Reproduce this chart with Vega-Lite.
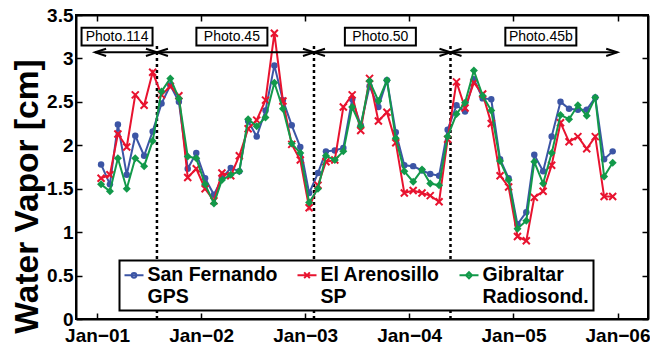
{
  "$schema": "https://vega.github.io/schema/vega-lite/v6.json",
  "width": 572,
  "height": 304,
  "autosize": {"type": "none"},
  "padding": {"left": 76, "top": 15, "right": 2, "bottom": 28},
  "background": "white",
  "config": {
    "view": {"stroke": "black", "strokeWidth": 2},
    "axis": {"grid": false, "domainColor": "black", "domainWidth": 2, "tickColor": "black", "tickWidth": 1.5, "tickSize": -6, "labelPadding": 10, "labelFont": "Liberation Sans", "labelFontWeight": "bold", "labelFontSize": 19, "labelColor": "black"},
    "legend": {"strokeWidth": 2}
  },
  "datasets": {
    "wv": [
      {"m":"2001-01-15T00:00","sf":1.78,"ea":1.62,"gr":1.55},
      {"m":"2001-02-15T00:00","sf":1.55,"ea":1.66,"gr":1.47},
      {"m":"2001-03-15T00:00","sf":2.24,"ea":2.13,"gr":1.85},
      {"m":"2001-04-15T00:00","sf":1.66,"ea":1.98,"gr":1.50},
      {"m":"2001-05-15T00:00","sf":2.11,"ea":2.58,"gr":1.85},
      {"m":"2001-06-15T00:00","sf":1.88,"ea":2.46,"gr":1.76},
      {"m":"2001-07-15T00:00","sf":2.16,"ea":2.84,"gr":2.05},
      {"m":"2001-08-15T00:00","sf":2.48,"ea":2.58,"gr":2.62},
      {"m":"2001-09-15T00:00","sf":2.69,"ea":2.68,"gr":2.77},
      {"m":"2001-10-15T00:00","sf":2.50,"ea":2.57,"gr":2.54},
      {"m":"2001-11-15T00:00","sf":1.73,"ea":1.63,"gr":1.87},
      {"m":"2001-12-15T00:00","sf":1.91,"ea":1.73,"gr":1.85},
      {"m":"2002-01-15T00:00","sf":1.62,"ea":1.50,"gr":1.55},
      {"m":"2002-02-15T00:00","sf":1.43,"ea":1.36,"gr":1.33},
      {"m":"2002-03-15T00:00","sf":1.62,"ea":1.68,"gr":1.60},
      {"m":"2002-04-15T00:00","sf":1.74,"ea":1.65,"gr":1.66},
      {"m":"2002-05-15T00:00","sf":1.70,"ea":1.88,"gr":1.70},
      {"m":"2002-06-15T00:00","sf":2.28,"ea":2.19,"gr":2.30},
      {"m":"2002-07-15T00:00","sf":2.10,"ea":2.29,"gr":2.22},
      {"m":"2002-08-15T00:00","sf":2.40,"ea":2.52,"gr":2.32},
      {"m":"2002-09-15T00:00","sf":2.92,"ea":3.29,"gr":2.72},
      {"m":"2002-10-15T00:00","sf":2.52,"ea":2.51,"gr":2.42},
      {"m":"2002-11-15T00:00","sf":2.23,"ea":2.01,"gr":2.02},
      {"m":"2002-12-15T00:00","sf":1.98,"ea":1.83,"gr":1.91},
      {"m":"2003-01-15T00:00","sf":1.45,"ea":1.28,"gr":1.34},
      {"m":"2003-02-15T00:00","sf":1.68,"ea":1.54,"gr":1.50},
      {"m":"2003-03-15T00:00","sf":1.93,"ea":1.81,"gr":1.88},
      {"m":"2003-04-15T00:00","sf":1.94,"ea":1.83,"gr":1.83},
      {"m":"2003-05-15T00:00","sf":1.97,"ea":2.44,"gr":1.93},
      {"m":"2003-06-15T00:00","sf":2.53,"ea":2.58,"gr":2.44},
      {"m":"2003-07-15T00:00","sf":2.23,"ea":2.17,"gr":2.22},
      {"m":"2003-08-15T00:00","sf":2.68,"ea":2.77,"gr":2.74},
      {"m":"2003-09-15T00:00","sf":2.44,"ea":2.28,"gr":2.51},
      {"m":"2003-10-15T00:00","sf":2.75,"ea":2.38,"gr":2.75},
      {"m":"2003-11-15T00:00","sf":2.15,"ea":2.03,"gr":2.08},
      {"m":"2003-12-15T00:00","sf":1.77,"ea":1.45,"gr":1.70},
      {"m":"2004-01-15T00:00","sf":1.76,"ea":1.48,"gr":1.58},
      {"m":"2004-02-15T00:00","sf":1.71,"ea":1.45,"gr":1.72},
      {"m":"2004-03-15T00:00","sf":1.67,"ea":1.42,"gr":1.56},
      {"m":"2004-04-15T00:00","sf":1.65,"ea":1.35,"gr":1.54},
      {"m":"2004-05-15T00:00","sf":2.18,"ea":2.07,"gr":2.10},
      {"m":"2004-06-15T00:00","sf":2.46,"ea":2.73,"gr":2.36},
      {"m":"2004-07-15T00:00","sf":2.39,"ea":2.43,"gr":2.49},
      {"m":"2004-08-15T00:00","sf":2.76,"ea":2.72,"gr":2.86},
      {"m":"2004-09-15T00:00","sf":2.54,"ea":2.59,"gr":2.57},
      {"m":"2004-10-15T00:00","sf":2.53,"ea":2.25,"gr":2.40},
      {"m":"2004-11-15T00:00","sf":1.84,"ea":1.65,"gr":1.82},
      {"m":"2004-12-15T00:00","sf":1.62,"ea":1.52,"gr":1.60},
      {"m":"2005-01-15T00:00","sf":1.09,"ea":0.95,"gr":1.04},
      {"m":"2005-02-15T00:00","sf":1.23,"ea":0.90,"gr":1.13},
      {"m":"2005-03-15T00:00","sf":1.89,"ea":1.40,"gr":1.81},
      {"m":"2005-04-15T00:00","sf":1.70,"ea":1.47,"gr":1.56},
      {"m":"2005-05-15T00:00","sf":2.10,"ea":1.77,"gr":1.91},
      {"m":"2005-06-15T00:00","sf":2.50,"ea":2.26,"gr":2.35},
      {"m":"2005-07-15T00:00","sf":2.42,"ea":2.04,"gr":2.30},
      {"m":"2005-08-15T00:00","sf":2.41,"ea":2.10,"gr":2.46},
      {"m":"2005-09-15T00:00","sf":2.41,"ea":1.96,"gr":2.34},
      {"m":"2005-10-15T00:00","sf":2.55,"ea":2.10,"gr":2.55},
      {"m":"2005-11-15T00:00","sf":1.84,"ea":1.41,"gr":1.64},
      {"m":"2005-12-15T00:00","sf":1.93,"ea":1.41,"gr":1.80}
    ],
    "photo": [
      {"name":"Photo.114","start":"2000-12-25T00:00","end":"2001-07-30T00:00","mid":"2001-03-12T00:00"},
      {"name":"Photo.45","start":"2001-07-30T00:00","end":"2003-02-01T00:00","mid":"2002-04-19T00:00"},
      {"name":"Photo.50","start":"2003-02-01T00:00","end":"2004-05-25T00:00","mid":"2003-09-22T00:00"},
      {"name":"Photo.45b","start":"2004-05-25T00:00","end":"2005-12-31T00:00","mid":"2005-04-07T00:00"}
    ],
    "series": [
      {"series":"San Fernando GPS"},
      {"series":"El Arenosillo SP"},
      {"series":"Gibraltar Radiosond."}
    ]
  },
  "resolve": {"axis": {"x": "independent", "y": "independent"}},
  "layer": [
    {
      "data": {"name": "photo"},
      "transform": [{"filter": "datum.name != 'Photo.45b'"}],
      "mark": {"type": "rule", "color": "black", "strokeWidth": 2.5, "strokeDash": [3, 3]},
      "encoding": {
        "x": {"field": "end", "type": "temporal", "scale": {"domain": [{"year":2000,"month":10,"date":19},{"year":2006,"month":4,"date":18}], "nice": false}, "axis": null},
        "y": {"datum": 0, "type": "quantitative", "scale": {"domain": [0, 3.5], "nice": false, "zero": false}, "axis": null},
        "y2": {"datum": 3.17}
      }
    },
    {
      "data": {"name": "wv"},
      "mark": {"type": "line", "color": "#3c55a5", "strokeWidth": 2},
      "encoding": {
        "x": {"field": "m", "type": "temporal", "scale": {"domain": [{"year":2000,"month":10,"date":19},{"year":2006,"month":4,"date":18}], "nice": false},
          "axis": {"orient": "bottom", "title": null, "labelPadding": 13, "values": [{"year":2001,"month":1,"date":1},{"year":2002,"month":1,"date":1},{"year":2003,"month":1,"date":1},{"year":2004,"month":1,"date":1},{"year":2005,"month":1,"date":1},{"year":2006,"month":1,"date":1}],
            "labelExpr": "timeFormat(datum.value, '%b') + '\u2212' + timeFormat(datum.value, '%y')", "labelFlush": false, "labelOverlap": false}},
        "y": {"field": "sf", "type": "quantitative", "scale": {"domain": [0, 3.5], "nice": false, "zero": false},
          "axis": {"orient": "left", "labelPadding": 9, "values": [0, 0.5, 1, 1.5, 2, 2.5, 3, 3.5], "format": "~g",
            "title": "Water Vapor [cm]", "titleFont": "Liberation Sans", "titleFontWeight": "bold", "titleFontSize": 33.5, "titleColor": "black",
            "titleX": -39, "titleY": 181, "titleAlign": "center", "titleBaseline": "alphabetic", "titleAngle": -90}}
      }
    },
    {
      "data": {"name": "wv"},
      "mark": {"type": "point", "shape": "circle", "filled": true, "color": "#3c55a5", "size": 42, "opacity": 1},
      "encoding": {
        "x": {"field": "m", "type": "temporal", "scale": {"domain": [{"year":2000,"month":10,"date":19},{"year":2006,"month":4,"date":18}], "nice": false},
          "axis": {"orient": "top", "title": null, "labels": false, "values": [{"year":2001,"month":1,"date":1},{"year":2002,"month":1,"date":1},{"year":2003,"month":1,"date":1},{"year":2004,"month":1,"date":1},{"year":2005,"month":1,"date":1},{"year":2006,"month":1,"date":1}]}},
        "y": {"field": "sf", "type": "quantitative", "scale": {"domain": [0, 3.5], "nice": false, "zero": false},
          "axis": {"orient": "right", "title": null, "labels": false, "values": [0, 0.5, 1, 1.5, 2, 2.5, 3, 3.5]}}
      }
    },
    {
      "data": {"name": "wv"},
      "mark": {"type": "line", "color": "#e8132f", "strokeWidth": 2},
      "encoding": {
        "x": {"field": "m", "type": "temporal", "scale": {"domain": [{"year":2000,"month":10,"date":19},{"year":2006,"month":4,"date":18}], "nice": false}, "axis": null},
        "y": {"field": "ea", "type": "quantitative", "scale": {"domain": [0, 3.5], "nice": false, "zero": false}, "axis": null}
      }
    },
    {
      "data": {"name": "wv"},
      "mark": {"type": "point", "shape": "M-1,-1L1,1M-1,1L1,-1", "filled": false, "stroke": "#e8132f", "strokeWidth": 2, "size": 49, "opacity": 1},
      "encoding": {
        "x": {"field": "m", "type": "temporal", "scale": {"domain": [{"year":2000,"month":10,"date":19},{"year":2006,"month":4,"date":18}], "nice": false}, "axis": null},
        "y": {"field": "ea", "type": "quantitative", "scale": {"domain": [0, 3.5], "nice": false, "zero": false}, "axis": null}
      }
    },
    {
      "data": {"name": "wv"},
      "mark": {"type": "line", "color": "#12994a", "strokeWidth": 2},
      "encoding": {
        "x": {"field": "m", "type": "temporal", "scale": {"domain": [{"year":2000,"month":10,"date":19},{"year":2006,"month":4,"date":18}], "nice": false}, "axis": null},
        "y": {"field": "gr", "type": "quantitative", "scale": {"domain": [0, 3.5], "nice": false, "zero": false}, "axis": null}
      }
    },
    {
      "data": {"name": "wv"},
      "mark": {"type": "point", "shape": "diamond", "filled": true, "color": "#12994a", "size": 64, "opacity": 1},
      "encoding": {
        "x": {"field": "m", "type": "temporal", "scale": {"domain": [{"year":2000,"month":10,"date":19},{"year":2006,"month":4,"date":18}], "nice": false}, "axis": null},
        "y": {"field": "gr", "type": "quantitative", "scale": {"domain": [0, 3.5], "nice": false, "zero": false}, "axis": null}
      }
    },
    {
      "data": {"name": "photo"},
      "mark": {"type": "rule", "color": "black", "strokeWidth": 2},
      "encoding": {
        "x": {"field": "start", "type": "temporal", "scale": {"domain": [{"year":2000,"month":10,"date":19},{"year":2006,"month":4,"date":18}], "nice": false}, "axis": null},
        "x2": {"field": "end"},
        "y": {"datum": 3.07, "type": "quantitative", "scale": {"domain": [0, 3.5], "nice": false, "zero": false}, "axis": null}
      }
    },
    {
      "data": {"name": "photo"},
      "mark": {"type": "point", "shape": "M1,-0.33L0,0L1,0.33", "filled": false, "stroke": "black", "strokeWidth": 2, "size": 484, "opacity": 1},
      "encoding": {
        "x": {"field": "start", "type": "temporal", "scale": {"domain": [{"year":2000,"month":10,"date":19},{"year":2006,"month":4,"date":18}], "nice": false}, "axis": null},
        "y": {"datum": 3.07, "type": "quantitative", "scale": {"domain": [0, 3.5], "nice": false, "zero": false}, "axis": null}
      }
    },
    {
      "data": {"name": "photo"},
      "mark": {"type": "point", "shape": "M-1,-0.33L0,0L-1,0.33", "filled": false, "stroke": "black", "strokeWidth": 2, "size": 484, "opacity": 1},
      "encoding": {
        "x": {"field": "end", "type": "temporal", "scale": {"domain": [{"year":2000,"month":10,"date":19},{"year":2006,"month":4,"date":18}], "nice": false}, "axis": null},
        "y": {"datum": 3.07, "type": "quantitative", "scale": {"domain": [0, 3.5], "nice": false, "zero": false}, "axis": null}
      }
    },
    {
      "data": {"name": "photo"},
      "mark": {"type": "point", "shape": "M-1,-0.25H1V0.25H-1Z", "filled": true, "fill": "white", "stroke": "black", "strokeWidth": 2, "size": 5041, "opacity": 1},
      "encoding": {
        "x": {"field": "mid", "type": "temporal", "scale": {"domain": [{"year":2000,"month":10,"date":19},{"year":2006,"month":4,"date":18}], "nice": false}, "axis": null},
        "y": {"datum": 3.25, "type": "quantitative", "scale": {"domain": [0, 3.5], "nice": false, "zero": false}, "axis": null}
      }
    },
    {
      "data": {"name": "photo"},
      "mark": {"type": "text", "font": "Liberation Sans", "fontSize": 14, "color": "black", "align": "center", "baseline": "middle"},
      "encoding": {
        "x": {"field": "mid", "type": "temporal", "scale": {"domain": [{"year":2000,"month":10,"date":19},{"year":2006,"month":4,"date":18}], "nice": false}, "axis": null},
        "y": {"datum": 3.25, "type": "quantitative", "scale": {"domain": [0, 3.5], "nice": false, "zero": false}, "axis": null},
        "text": {"field": "name"}
      }
    },
    {
      "data": {"name": "series"},
      "mark": {"type": "point", "filled": true, "opacity": 0},
      "encoding": {
        "color": {"field": "series", "type": "nominal",
          "scale": {"domain": ["San Fernando GPS", "El Arenosillo SP", "Gibraltar Radiosond."], "range": ["#3c55a5", "#e8132f", "#12994a"]},
          "legend": {"orient": "none", "legendX": 43.5, "legendY": 245.5, "direction": "horizontal", "columns": 3, "title": null,
            "strokeColor": "black", "fillColor": "white", "padding": 4, "columnPadding": 15, "gridAlign": "each",
            "labelFont": "Liberation Sans", "labelFontWeight": "bold", "labelFontSize": 19.5, "labelColor": "black", "labelLimit": 0, "labelOffset": 3, "labelLineHeight": 24,
            "symbolSize": 361, "symbolStrokeWidth": 2, "symbolOpacity": 1,
            "labelExpr": "datum.label == 'San Fernando GPS' ? ['San Fernando', 'GPS'] : datum.label == 'El Arenosillo SP' ? ['El Arenosillo', 'SP'] : ['Gibraltar', 'Radiosond.']"}},
        "stroke": {"field": "series", "type": "nominal",
          "scale": {"domain": ["San Fernando GPS", "El Arenosillo SP", "Gibraltar Radiosond."], "range": ["#3c55a5", "#e8132f", "#12994a"]}},
        "shape": {"field": "series", "type": "nominal",
          "scale": {"domain": ["San Fernando GPS", "El Arenosillo SP", "Gibraltar Radiosond."],
            "range": ["M-1,0H1M-0.25,0A0.25,0.25,0,1,0,0.25,0A0.25,0.25,0,1,0,-0.25,0Z", "M-1,0H1M-0.3,-0.3L0.3,0.3M-0.3,0.3L0.3,-0.3", "M-1,0H1M0,-0.32L0.32,0L0,0.32L-0.32,0Z"]}}
      }
    }
  ]
}
